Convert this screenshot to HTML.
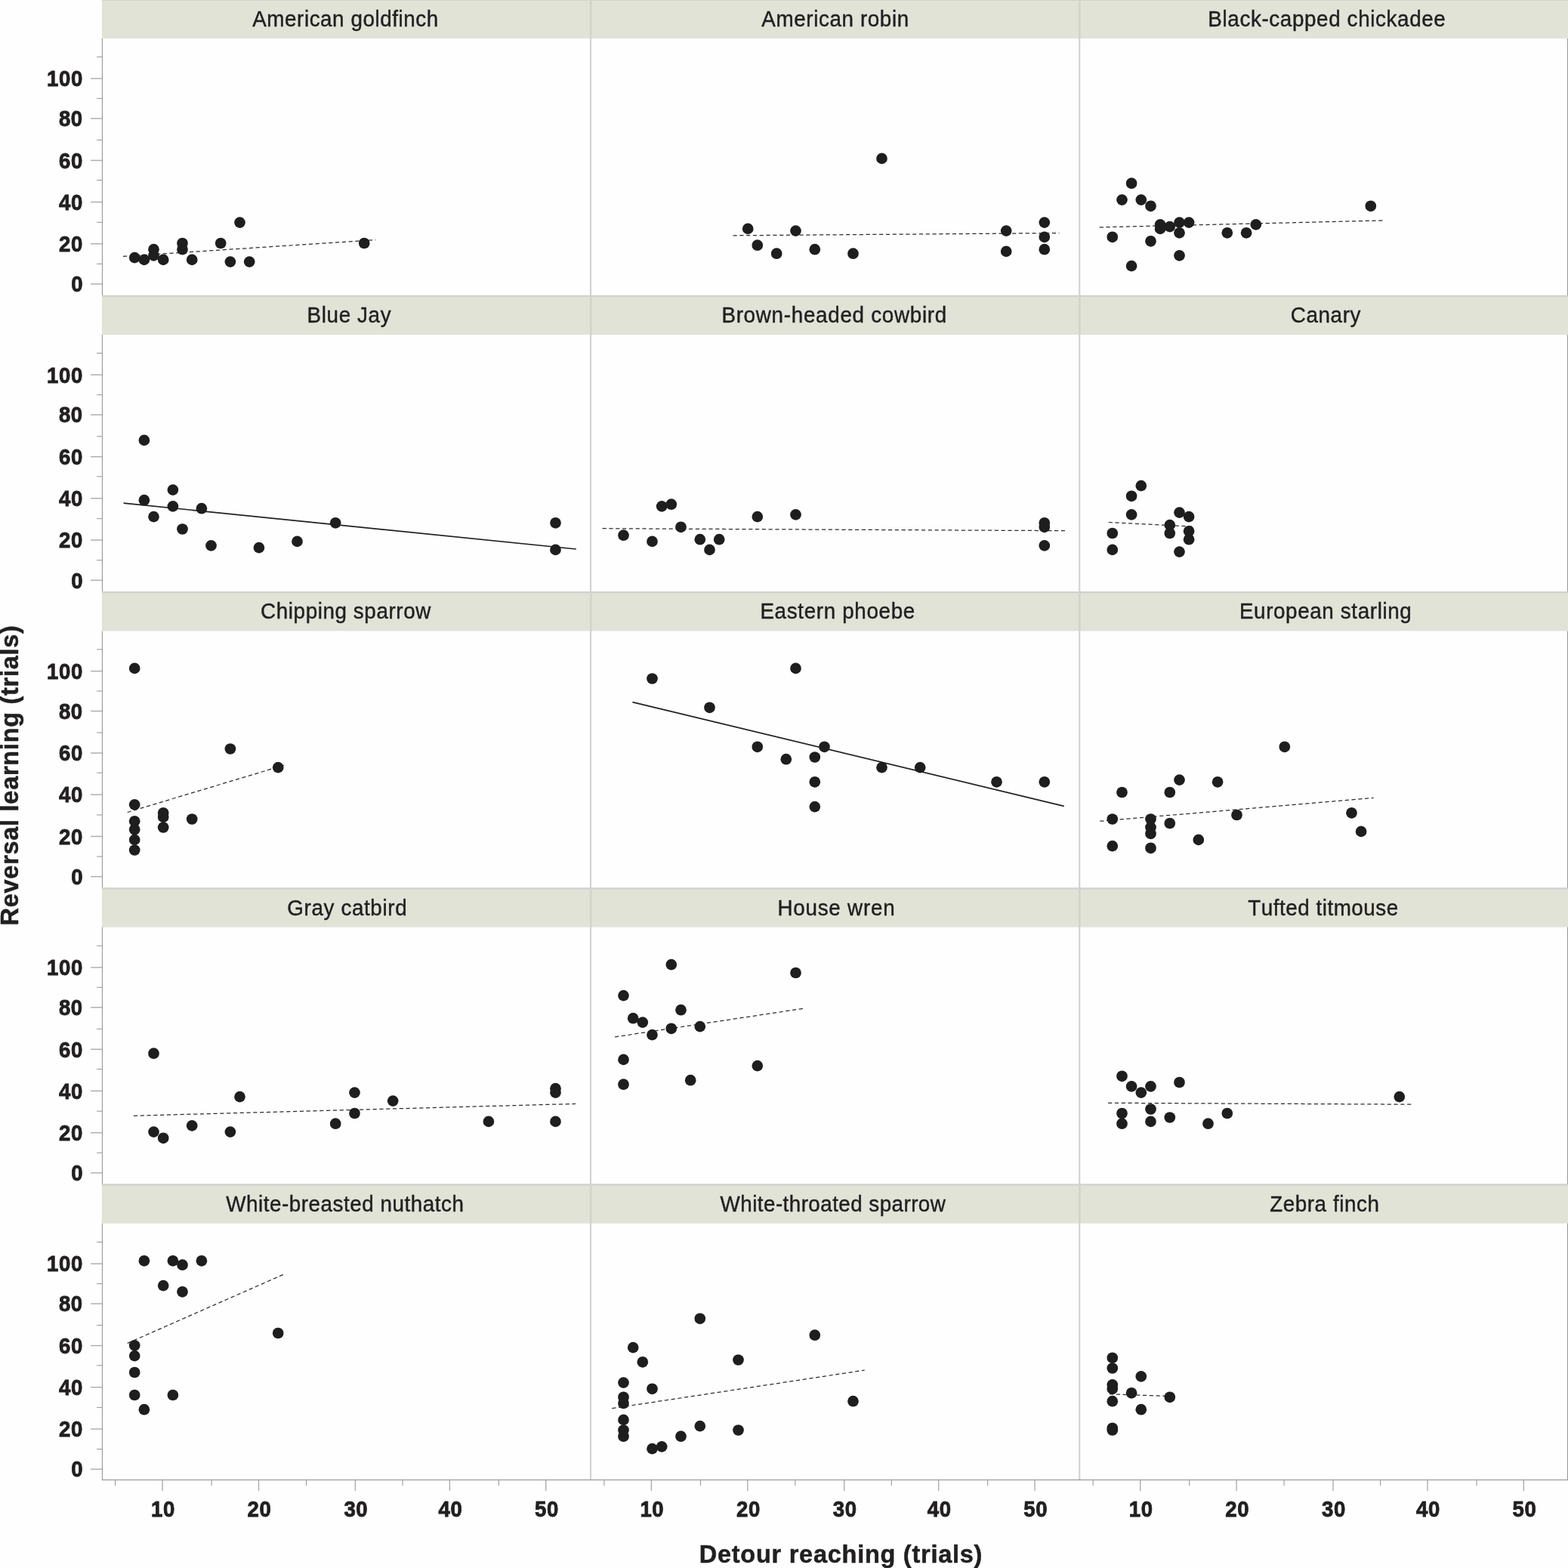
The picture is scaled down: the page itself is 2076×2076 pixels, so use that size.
<!DOCTYPE html>
<html lang="en"><head><meta charset="utf-8"><title>Reversal learning (trials) vs Detour reaching (trials)</title>
<style>html,body{margin:0;padding:0;background:#fefefe}body{width:2076px;height:2076px;overflow:hidden}svg{display:block}text{font-family:'Liberation Sans', Arial, sans-serif;fill:#211f20;font-kerning:none;white-space:pre}.h{font-size:27.8px;stroke:#211f20;stroke-width:0.42px}.t{font-size:27.6px;font-weight:bold;stroke:#211f20;stroke-width:0.8px}.ax{font-size:32.5px;font-weight:bold;stroke:#211f20;stroke-width:0.5px}.d{fill:#1f1e1f}.ls{stroke:#211f20;stroke-width:1.7;fill:none}.ld{stroke:#2e2c2d;stroke-width:1.25;stroke-dasharray:5.2 3.6;fill:none}</style></head><body>
<svg width="2076" height="2076" viewBox="0 0 2076 2076">
<rect x="0" y="0" width="2076" height="2076" fill="#fefefe"/>
<g>
<rect x="134.9" y="-1.3" width="1941.1" height="52.3" fill="#e1e3d7"/>
<rect x="134.9" y="-1.3" width="1941.1" height="2.2" fill="#d1d2cb"/>
<rect x="134.9" y="390.9" width="1941.1" height="52.3" fill="#e1e3d7"/>
<rect x="134.9" y="390.9" width="1941.1" height="2.2" fill="#d1d2cb"/>
<rect x="134.9" y="783.1" width="1941.1" height="52.3" fill="#e1e3d7"/>
<rect x="134.9" y="783.1" width="1941.1" height="2.2" fill="#d1d2cb"/>
<rect x="134.9" y="1175.3" width="1941.1" height="52.3" fill="#e1e3d7"/>
<rect x="134.9" y="1175.3" width="1941.1" height="2.2" fill="#d1d2cb"/>
<rect x="134.9" y="1567.5" width="1941.1" height="52.3" fill="#e1e3d7"/>
<rect x="134.9" y="1567.5" width="1941.1" height="2.2" fill="#d1d2cb"/>
</g>
<g stroke="#d3d3d5" stroke-width="2.2">
<line x1="782.0" y1="0" x2="782.0" y2="1959.4"/>
<line x1="1429.2" y1="0" x2="1429.2" y2="1959.4"/>
</g>
<g stroke="#d3d5ca" stroke-width="2.6">
<line x1="782.2" y1="0.0" x2="782.2" y2="51.0"/>
<line x1="1429.4" y1="0.0" x2="1429.4" y2="51.0"/>
<line x1="782.2" y1="390.9" x2="782.2" y2="443.2"/>
<line x1="1429.4" y1="390.9" x2="1429.4" y2="443.2"/>
<line x1="782.2" y1="783.1" x2="782.2" y2="835.4"/>
<line x1="1429.4" y1="783.1" x2="1429.4" y2="835.4"/>
<line x1="782.2" y1="1175.3" x2="782.2" y2="1227.6"/>
<line x1="1429.4" y1="1175.3" x2="1429.4" y2="1227.6"/>
<line x1="782.2" y1="1567.5" x2="782.2" y2="1619.8"/>
<line x1="1429.4" y1="1567.5" x2="1429.4" y2="1619.8"/>
</g>
<g stroke="#9c9c9c" stroke-width="1.2">
<line x1="135.5" y1="51.0" x2="135.5" y2="390.9"/>
<line x1="2075.5" y1="51.0" x2="2075.5" y2="390.9"/>
<line x1="135.5" y1="443.2" x2="135.5" y2="783.1"/>
<line x1="2075.5" y1="443.2" x2="2075.5" y2="783.1"/>
<line x1="135.5" y1="835.4" x2="135.5" y2="1175.3"/>
<line x1="2075.5" y1="835.4" x2="2075.5" y2="1175.3"/>
<line x1="135.5" y1="1227.6" x2="135.5" y2="1567.5"/>
<line x1="2075.5" y1="1227.6" x2="2075.5" y2="1567.5"/>
<line x1="135.5" y1="1619.8" x2="135.5" y2="1959.4"/>
<line x1="2075.5" y1="1619.8" x2="2075.5" y2="1959.4"/>
<line x1="134.9" y1="1959.4" x2="2076" y2="1959.4"/>
</g>
<g stroke="#adadad" stroke-width="1.45">
<line x1="120.1" y1="104.0" x2="135.5" y2="104.0"/>
<line x1="120.1" y1="156.9" x2="135.5" y2="156.9"/>
<line x1="120.1" y1="212.4" x2="135.5" y2="212.4"/>
<line x1="120.1" y1="267.5" x2="135.5" y2="267.5"/>
<line x1="120.1" y1="322.8" x2="135.5" y2="322.8"/>
<line x1="120.1" y1="376.0" x2="135.5" y2="376.0"/>
<line x1="120.1" y1="496.3" x2="135.5" y2="496.3"/>
<line x1="120.1" y1="549.2" x2="135.5" y2="549.2"/>
<line x1="120.1" y1="604.7" x2="135.5" y2="604.7"/>
<line x1="120.1" y1="659.8" x2="135.5" y2="659.8"/>
<line x1="120.1" y1="715.1" x2="135.5" y2="715.1"/>
<line x1="120.1" y1="768.3" x2="135.5" y2="768.3"/>
<line x1="120.1" y1="888.6" x2="135.5" y2="888.6"/>
<line x1="120.1" y1="941.5" x2="135.5" y2="941.5"/>
<line x1="120.1" y1="997.0" x2="135.5" y2="997.0"/>
<line x1="120.1" y1="1052.1" x2="135.5" y2="1052.1"/>
<line x1="120.1" y1="1107.4" x2="135.5" y2="1107.4"/>
<line x1="120.1" y1="1160.6" x2="135.5" y2="1160.6"/>
<line x1="120.1" y1="1280.9" x2="135.5" y2="1280.9"/>
<line x1="120.1" y1="1333.8" x2="135.5" y2="1333.8"/>
<line x1="120.1" y1="1389.3" x2="135.5" y2="1389.3"/>
<line x1="120.1" y1="1444.4" x2="135.5" y2="1444.4"/>
<line x1="120.1" y1="1499.7" x2="135.5" y2="1499.7"/>
<line x1="120.1" y1="1552.9" x2="135.5" y2="1552.9"/>
<line x1="120.1" y1="1673.2" x2="135.5" y2="1673.2"/>
<line x1="120.1" y1="1726.1" x2="135.5" y2="1726.1"/>
<line x1="120.1" y1="1781.6" x2="135.5" y2="1781.6"/>
<line x1="120.1" y1="1836.7" x2="135.5" y2="1836.7"/>
<line x1="120.1" y1="1892.0" x2="135.5" y2="1892.0"/>
<line x1="120.1" y1="1945.2" x2="135.5" y2="1945.2"/>
</g>
<g stroke="#a6a6a6" stroke-width="1.3">
<line x1="215.1" y1="1959.4" x2="215.1" y2="1973.9"/>
<line x1="342.5" y1="1959.4" x2="342.5" y2="1973.9"/>
<line x1="470.4" y1="1959.4" x2="470.4" y2="1973.9"/>
<line x1="595.4" y1="1959.4" x2="595.4" y2="1973.9"/>
<line x1="722.7" y1="1959.4" x2="722.7" y2="1973.9"/>
<line x1="862.4" y1="1959.4" x2="862.4" y2="1973.9"/>
<line x1="989.8" y1="1959.4" x2="989.8" y2="1973.9"/>
<line x1="1117.7" y1="1959.4" x2="1117.7" y2="1973.9"/>
<line x1="1242.7" y1="1959.4" x2="1242.7" y2="1973.9"/>
<line x1="1370.0" y1="1959.4" x2="1370.0" y2="1973.9"/>
<line x1="1509.7" y1="1959.4" x2="1509.7" y2="1973.9"/>
<line x1="1637.1" y1="1959.4" x2="1637.1" y2="1973.9"/>
<line x1="1765.0" y1="1959.4" x2="1765.0" y2="1973.9"/>
<line x1="1890.0" y1="1959.4" x2="1890.0" y2="1973.9"/>
<line x1="2017.3" y1="1959.4" x2="2017.3" y2="1973.9"/>
</g>
<g stroke="#9c9c9c" stroke-width="1.1">
<line x1="128.1" y1="75.3" x2="135.5" y2="75.3"/>
<line x1="128.1" y1="130.4" x2="135.5" y2="130.4"/>
<line x1="128.1" y1="185.4" x2="135.5" y2="185.4"/>
<line x1="128.1" y1="238.6" x2="135.5" y2="238.6"/>
<line x1="128.1" y1="294.3" x2="135.5" y2="294.3"/>
<line x1="128.1" y1="349.4" x2="135.5" y2="349.4"/>
<line x1="128.1" y1="467.6" x2="135.5" y2="467.6"/>
<line x1="128.1" y1="522.7" x2="135.5" y2="522.7"/>
<line x1="128.1" y1="577.7" x2="135.5" y2="577.7"/>
<line x1="128.1" y1="630.9" x2="135.5" y2="630.9"/>
<line x1="128.1" y1="686.6" x2="135.5" y2="686.6"/>
<line x1="128.1" y1="741.7" x2="135.5" y2="741.7"/>
<line x1="128.1" y1="859.9" x2="135.5" y2="859.9"/>
<line x1="128.1" y1="915.0" x2="135.5" y2="915.0"/>
<line x1="128.1" y1="970.0" x2="135.5" y2="970.0"/>
<line x1="128.1" y1="1023.2" x2="135.5" y2="1023.2"/>
<line x1="128.1" y1="1078.9" x2="135.5" y2="1078.9"/>
<line x1="128.1" y1="1134.0" x2="135.5" y2="1134.0"/>
<line x1="128.1" y1="1252.2" x2="135.5" y2="1252.2"/>
<line x1="128.1" y1="1307.3" x2="135.5" y2="1307.3"/>
<line x1="128.1" y1="1362.3" x2="135.5" y2="1362.3"/>
<line x1="128.1" y1="1415.5" x2="135.5" y2="1415.5"/>
<line x1="128.1" y1="1471.2" x2="135.5" y2="1471.2"/>
<line x1="128.1" y1="1526.3" x2="135.5" y2="1526.3"/>
<line x1="128.1" y1="1644.5" x2="135.5" y2="1644.5"/>
<line x1="128.1" y1="1699.6" x2="135.5" y2="1699.6"/>
<line x1="128.1" y1="1754.6" x2="135.5" y2="1754.6"/>
<line x1="128.1" y1="1807.8" x2="135.5" y2="1807.8"/>
<line x1="128.1" y1="1863.5" x2="135.5" y2="1863.5"/>
<line x1="128.1" y1="1918.6" x2="135.5" y2="1918.6"/>
<line x1="152.6" y1="1959.4" x2="152.6" y2="1966.9"/>
<line x1="280.1" y1="1959.4" x2="280.1" y2="1966.9"/>
<line x1="405.5" y1="1959.4" x2="405.5" y2="1966.9"/>
<line x1="533.0" y1="1959.4" x2="533.0" y2="1966.9"/>
<line x1="660.4" y1="1959.4" x2="660.4" y2="1966.9"/>
<line x1="799.9" y1="1959.4" x2="799.9" y2="1966.9"/>
<line x1="927.4" y1="1959.4" x2="927.4" y2="1966.9"/>
<line x1="1052.8" y1="1959.4" x2="1052.8" y2="1966.9"/>
<line x1="1180.3" y1="1959.4" x2="1180.3" y2="1966.9"/>
<line x1="1307.7" y1="1959.4" x2="1307.7" y2="1966.9"/>
<line x1="1447.2" y1="1959.4" x2="1447.2" y2="1966.9"/>
<line x1="1574.7" y1="1959.4" x2="1574.7" y2="1966.9"/>
<line x1="1700.1" y1="1959.4" x2="1700.1" y2="1966.9"/>
<line x1="1827.6" y1="1959.4" x2="1827.6" y2="1966.9"/>
<line x1="1955.0" y1="1959.4" x2="1955.0" y2="1966.9"/>
</g>
<g class="t">
<text transform="matrix(1 0 0 1.090 0 -10.287)" x="61.93" y="114.3" letter-spacing="0.640">100</text>
<text transform="matrix(1 0 0 1.090 0 -15.048)" x="77.90" y="167.2" letter-spacing="0.640">80</text>
<text transform="matrix(1 0 0 1.090 0 -20.043)" x="77.91" y="222.7" letter-spacing="0.640">60</text>
<text transform="matrix(1 0 0 1.090 0 -25.002)" x="77.94" y="277.8" letter-spacing="0.640">40</text>
<text transform="matrix(1 0 0 1.090 0 -29.979)" x="77.91" y="333.1" letter-spacing="0.640">20</text>
<text transform="matrix(1 0 0 1.090 0 -34.767)" x="94.28" y="386.3" letter-spacing="0.640">0</text>
<text transform="matrix(1 0 0 1.090 0 -45.594)" x="61.93" y="506.6" letter-spacing="0.640">100</text>
<text transform="matrix(1 0 0 1.090 0 -50.355)" x="77.90" y="559.5" letter-spacing="0.640">80</text>
<text transform="matrix(1 0 0 1.090 0 -55.350)" x="77.91" y="615.0" letter-spacing="0.640">60</text>
<text transform="matrix(1 0 0 1.090 0 -60.309)" x="77.94" y="670.1" letter-spacing="0.640">40</text>
<text transform="matrix(1 0 0 1.090 0 -65.286)" x="77.91" y="725.4" letter-spacing="0.640">20</text>
<text transform="matrix(1 0 0 1.090 0 -70.074)" x="94.28" y="778.6" letter-spacing="0.640">0</text>
<text transform="matrix(1 0 0 1.090 0 -80.901)" x="61.93" y="898.9" letter-spacing="0.640">100</text>
<text transform="matrix(1 0 0 1.090 0 -85.662)" x="77.90" y="951.8" letter-spacing="0.640">80</text>
<text transform="matrix(1 0 0 1.090 0 -90.657)" x="77.91" y="1007.3" letter-spacing="0.640">60</text>
<text transform="matrix(1 0 0 1.090 0 -95.616)" x="77.94" y="1062.4" letter-spacing="0.640">40</text>
<text transform="matrix(1 0 0 1.090 0 -100.593)" x="77.91" y="1117.7" letter-spacing="0.640">20</text>
<text transform="matrix(1 0 0 1.090 0 -105.381)" x="94.28" y="1170.9" letter-spacing="0.640">0</text>
<text transform="matrix(1 0 0 1.090 0 -116.208)" x="61.93" y="1291.2" letter-spacing="0.640">100</text>
<text transform="matrix(1 0 0 1.090 0 -120.969)" x="77.90" y="1344.1" letter-spacing="0.640">80</text>
<text transform="matrix(1 0 0 1.090 0 -125.964)" x="77.91" y="1399.6" letter-spacing="0.640">60</text>
<text transform="matrix(1 0 0 1.090 0 -130.923)" x="77.94" y="1454.7" letter-spacing="0.640">40</text>
<text transform="matrix(1 0 0 1.090 0 -135.900)" x="77.91" y="1510.0" letter-spacing="0.640">20</text>
<text transform="matrix(1 0 0 1.090 0 -140.688)" x="94.28" y="1563.2" letter-spacing="0.640">0</text>
<text transform="matrix(1 0 0 1.090 0 -151.515)" x="61.93" y="1683.5" letter-spacing="0.640">100</text>
<text transform="matrix(1 0 0 1.090 0 -156.276)" x="77.90" y="1736.4" letter-spacing="0.640">80</text>
<text transform="matrix(1 0 0 1.090 0 -161.271)" x="77.91" y="1791.9" letter-spacing="0.640">60</text>
<text transform="matrix(1 0 0 1.090 0 -166.230)" x="77.94" y="1847.0" letter-spacing="0.640">40</text>
<text transform="matrix(1 0 0 1.090 0 -171.207)" x="77.91" y="1902.3" letter-spacing="0.640">20</text>
<text transform="matrix(1 0 0 1.090 0 -175.995)" x="94.28" y="1955.5" letter-spacing="0.640">0</text>
</g>
<g class="t">
<text transform="matrix(1 0 0 1.090 0 -180.702)" x="200.09" y="2007.8" letter-spacing="0.640">10</text>
<text transform="matrix(1 0 0 1.090 0 -180.702)" x="327.61" y="2007.8" letter-spacing="0.640">20</text>
<text transform="matrix(1 0 0 1.090 0 -180.702)" x="455.38" y="2007.8" letter-spacing="0.640">30</text>
<text transform="matrix(1 0 0 1.090 0 -180.702)" x="580.46" y="2007.8" letter-spacing="0.640">40</text>
<text transform="matrix(1 0 0 1.090 0 -180.702)" x="707.96" y="2007.8" letter-spacing="0.640">50</text>
<text transform="matrix(1 0 0 1.090 0 -180.702)" x="847.39" y="2007.8" letter-spacing="0.640">10</text>
<text transform="matrix(1 0 0 1.090 0 -180.702)" x="974.91" y="2007.8" letter-spacing="0.640">20</text>
<text transform="matrix(1 0 0 1.090 0 -180.702)" x="1102.68" y="2007.8" letter-spacing="0.640">30</text>
<text transform="matrix(1 0 0 1.090 0 -180.702)" x="1227.76" y="2007.8" letter-spacing="0.640">40</text>
<text transform="matrix(1 0 0 1.090 0 -180.702)" x="1355.26" y="2007.8" letter-spacing="0.640">50</text>
<text transform="matrix(1 0 0 1.090 0 -180.702)" x="1494.69" y="2007.8" letter-spacing="0.640">10</text>
<text transform="matrix(1 0 0 1.090 0 -180.702)" x="1622.21" y="2007.8" letter-spacing="0.640">20</text>
<text transform="matrix(1 0 0 1.090 0 -180.702)" x="1749.98" y="2007.8" letter-spacing="0.640">30</text>
<text transform="matrix(1 0 0 1.090 0 -180.702)" x="1875.06" y="2007.8" letter-spacing="0.640">40</text>
<text transform="matrix(1 0 0 1.090 0 -180.702)" x="2002.56" y="2007.8" letter-spacing="0.640">50</text>
</g>
<g class="h">
<text transform="matrix(1 0 0 1.030 0 -1.038)" x="334.29" y="34.6" letter-spacing="0.553">American goldfinch</text>
<text transform="matrix(1 0 0 1.030 0 -1.038)" x="1008.38" y="34.6" letter-spacing="0.602">American robin</text>
<text transform="matrix(1 0 0 1.030 0 -1.038)" x="1599.34" y="34.6" letter-spacing="0.624">Black-capped chickadee</text>
<text transform="matrix(1 0 0 1.030 0 -12.810)" x="406.60" y="427.0" letter-spacing="0.622">Blue Jay</text>
<text transform="matrix(1 0 0 1.030 0 -12.810)" x="955.38" y="427.0" letter-spacing="0.715">Brown-headed cowbird</text>
<text transform="matrix(1 0 0 1.030 0 -12.810)" x="1708.82" y="427.0" letter-spacing="0.594">Canary</text>
<text transform="matrix(1 0 0 1.030 0 -24.582)" x="345.10" y="819.4" letter-spacing="0.591">Chipping sparrow</text>
<text transform="matrix(1 0 0 1.030 0 -24.582)" x="1006.43" y="819.4" letter-spacing="0.656">Eastern phoebe</text>
<text transform="matrix(1 0 0 1.030 0 -24.582)" x="1640.88" y="819.4" letter-spacing="0.626">European starling</text>
<text transform="matrix(1 0 0 1.030 0 -36.354)" x="380.28" y="1211.8" letter-spacing="0.630">Gray catbird</text>
<text transform="matrix(1 0 0 1.030 0 -36.354)" x="1029.40" y="1211.8" letter-spacing="0.763">House wren</text>
<text transform="matrix(1 0 0 1.030 0 -36.354)" x="1652.34" y="1211.8" letter-spacing="0.521">Tufted titmouse</text>
<text transform="matrix(1 0 0 1.030 0 -48.126)" x="299.29" y="1604.2" letter-spacing="0.537">White-breasted nuthatch</text>
<text transform="matrix(1 0 0 1.030 0 -48.126)" x="953.61" y="1604.2" letter-spacing="0.444">White-throated sparrow</text>
<text transform="matrix(1 0 0 1.030 0 -48.126)" x="1681.13" y="1604.2" letter-spacing="0.583">Zebra finch</text>
</g>
<text class="ax" x="925.74" y="2068.7" letter-spacing="0.743">Detour reaching (trials)</text>
<text class="ax" transform="rotate(-90)" x="-1225.43" y="24.0" letter-spacing="0.720">Reversal learning (trials)</text>
<g>
<line class="ld" x1="163.0" y1="339.4" x2="497.4" y2="317.6"/>
<g class="d"><circle cx="178.2" cy="341.1" r="7.35"/><circle cx="190.9" cy="343.9" r="7.35"/><circle cx="203.5" cy="330.2" r="7.35"/><circle cx="203.5" cy="338.4" r="7.35"/><circle cx="216.2" cy="343.9" r="7.35"/><circle cx="241.5" cy="322.0" r="7.35"/><circle cx="241.5" cy="330.2" r="7.35"/><circle cx="254.2" cy="343.9" r="7.35"/><circle cx="292.2" cy="322.0" r="7.35"/><circle cx="304.9" cy="346.6" r="7.35"/><circle cx="317.5" cy="294.6" r="7.35"/><circle cx="330.2" cy="346.6" r="7.35"/><circle cx="482.2" cy="322.0" r="7.35"/></g>
</g>
<g>
<line class="ld" x1="970.5" y1="311.8" x2="1402.5" y2="308.6"/>
<g class="d"><circle cx="990.2" cy="302.9" r="7.35"/><circle cx="1002.8" cy="324.7" r="7.35"/><circle cx="1028.2" cy="335.7" r="7.35"/><circle cx="1053.5" cy="305.6" r="7.35"/><circle cx="1078.8" cy="330.2" r="7.35"/><circle cx="1129.5" cy="335.7" r="7.35"/><circle cx="1167.5" cy="209.9" r="7.35"/><circle cx="1332.2" cy="305.6" r="7.35"/><circle cx="1332.2" cy="332.9" r="7.35"/><circle cx="1382.8" cy="294.6" r="7.35"/><circle cx="1382.8" cy="313.8" r="7.35"/><circle cx="1382.8" cy="330.2" r="7.35"/></g>
</g>
<g>
<line class="ld" x1="1455.7" y1="300.9" x2="1831.9" y2="291.9"/>
<g class="d"><circle cx="1472.8" cy="313.8" r="7.35"/><circle cx="1485.5" cy="264.6" r="7.35"/><circle cx="1498.1" cy="242.7" r="7.35"/><circle cx="1498.1" cy="352.1" r="7.35"/><circle cx="1510.8" cy="264.6" r="7.35"/><circle cx="1523.5" cy="272.8" r="7.35"/><circle cx="1523.5" cy="319.3" r="7.35"/><circle cx="1536.1" cy="297.4" r="7.35"/><circle cx="1536.1" cy="302.9" r="7.35"/><circle cx="1548.8" cy="300.1" r="7.35"/><circle cx="1561.5" cy="294.6" r="7.35"/><circle cx="1561.5" cy="308.3" r="7.35"/><circle cx="1561.5" cy="338.4" r="7.35"/><circle cx="1574.1" cy="294.6" r="7.35"/><circle cx="1624.8" cy="308.3" r="7.35"/><circle cx="1650.1" cy="308.3" r="7.35"/><circle cx="1662.8" cy="297.4" r="7.35"/><circle cx="1814.8" cy="272.8" r="7.35"/></g>
</g>
<g>
<line class="ls" x1="163.6" y1="666.1" x2="762.8" y2="727.0"/>
<g class="d"><circle cx="190.9" cy="582.9" r="7.35"/><circle cx="190.9" cy="662.2" r="7.35"/><circle cx="203.5" cy="684.1" r="7.35"/><circle cx="228.9" cy="648.6" r="7.35"/><circle cx="228.9" cy="670.4" r="7.35"/><circle cx="241.5" cy="700.5" r="7.35"/><circle cx="266.9" cy="673.2" r="7.35"/><circle cx="279.5" cy="722.4" r="7.35"/><circle cx="342.9" cy="725.1" r="7.35"/><circle cx="393.5" cy="716.9" r="7.35"/><circle cx="444.2" cy="692.3" r="7.35"/><circle cx="735.5" cy="692.3" r="7.35"/><circle cx="735.5" cy="727.9" r="7.35"/></g>
</g>
<g>
<line class="ld" x1="797.6" y1="699.7" x2="1410.7" y2="702.7"/>
<g class="d"><circle cx="825.5" cy="708.7" r="7.35"/><circle cx="863.5" cy="716.9" r="7.35"/><circle cx="876.2" cy="670.4" r="7.35"/><circle cx="888.8" cy="667.7" r="7.35"/><circle cx="901.5" cy="697.8" r="7.35"/><circle cx="926.8" cy="714.2" r="7.35"/><circle cx="939.5" cy="727.9" r="7.35"/><circle cx="952.2" cy="714.2" r="7.35"/><circle cx="1002.8" cy="684.1" r="7.35"/><circle cx="1053.5" cy="681.4" r="7.35"/><circle cx="1382.8" cy="692.3" r="7.35"/><circle cx="1382.8" cy="697.8" r="7.35"/><circle cx="1382.8" cy="722.4" r="7.35"/></g>
</g>
<g>
<line class="ld" x1="1467.7" y1="691.5" x2="1579.2" y2="697.2"/>
<g class="d"><circle cx="1472.8" cy="706.0" r="7.35"/><circle cx="1472.8" cy="727.9" r="7.35"/><circle cx="1498.1" cy="656.8" r="7.35"/><circle cx="1498.1" cy="681.4" r="7.35"/><circle cx="1510.8" cy="643.1" r="7.35"/><circle cx="1548.8" cy="695.1" r="7.35"/><circle cx="1548.8" cy="706.0" r="7.35"/><circle cx="1561.5" cy="678.6" r="7.35"/><circle cx="1561.5" cy="730.6" r="7.35"/><circle cx="1574.1" cy="684.1" r="7.35"/><circle cx="1574.1" cy="703.3" r="7.35"/><circle cx="1574.1" cy="714.2" r="7.35"/></g>
</g>
<g>
<line class="ld" x1="168.7" y1="1075.5" x2="377.7" y2="1012.6"/>
<g class="d"><circle cx="178.2" cy="884.9" r="7.35"/><circle cx="178.2" cy="1065.4" r="7.35"/><circle cx="178.2" cy="1087.3" r="7.35"/><circle cx="178.2" cy="1098.2" r="7.35"/><circle cx="178.2" cy="1111.9" r="7.35"/><circle cx="178.2" cy="1125.5" r="7.35"/><circle cx="216.2" cy="1076.3" r="7.35"/><circle cx="216.2" cy="1081.8" r="7.35"/><circle cx="216.2" cy="1095.5" r="7.35"/><circle cx="254.2" cy="1084.5" r="7.35"/><circle cx="304.9" cy="991.5" r="7.35"/><circle cx="368.2" cy="1016.1" r="7.35"/></g>
</g>
<g>
<line class="ls" x1="837.5" y1="929.7" x2="1408.8" y2="1067.3"/>
<g class="d"><circle cx="863.5" cy="898.5" r="7.35"/><circle cx="939.5" cy="936.8" r="7.35"/><circle cx="1002.8" cy="988.8" r="7.35"/><circle cx="1040.8" cy="1005.2" r="7.35"/><circle cx="1053.5" cy="884.9" r="7.35"/><circle cx="1078.8" cy="1002.5" r="7.35"/><circle cx="1078.8" cy="1035.3" r="7.35"/><circle cx="1078.8" cy="1068.1" r="7.35"/><circle cx="1091.5" cy="988.8" r="7.35"/><circle cx="1167.5" cy="1016.1" r="7.35"/><circle cx="1218.2" cy="1016.1" r="7.35"/><circle cx="1319.5" cy="1035.3" r="7.35"/><circle cx="1382.8" cy="1035.3" r="7.35"/></g>
</g>
<g>
<line class="ld" x1="1456.3" y1="1087.2" x2="1818.6" y2="1056.4"/>
<g class="d"><circle cx="1472.8" cy="1084.5" r="7.35"/><circle cx="1472.8" cy="1120.1" r="7.35"/><circle cx="1485.5" cy="1049.0" r="7.35"/><circle cx="1523.5" cy="1084.5" r="7.35"/><circle cx="1523.5" cy="1095.5" r="7.35"/><circle cx="1523.5" cy="1103.7" r="7.35"/><circle cx="1523.5" cy="1122.8" r="7.35"/><circle cx="1548.8" cy="1049.0" r="7.35"/><circle cx="1548.8" cy="1090.0" r="7.35"/><circle cx="1561.5" cy="1032.6" r="7.35"/><circle cx="1586.8" cy="1111.9" r="7.35"/><circle cx="1612.1" cy="1035.3" r="7.35"/><circle cx="1637.5" cy="1079.0" r="7.35"/><circle cx="1700.8" cy="988.8" r="7.35"/><circle cx="1789.5" cy="1076.3" r="7.35"/><circle cx="1802.1" cy="1100.9" r="7.35"/></g>
</g>
<g>
<line class="ld" x1="176.9" y1="1477.3" x2="762.1" y2="1461.4"/>
<g class="d"><circle cx="203.5" cy="1394.7" r="7.35"/><circle cx="203.5" cy="1498.6" r="7.35"/><circle cx="216.2" cy="1506.8" r="7.35"/><circle cx="254.2" cy="1490.4" r="7.35"/><circle cx="304.9" cy="1498.6" r="7.35"/><circle cx="317.5" cy="1452.1" r="7.35"/><circle cx="444.2" cy="1487.7" r="7.35"/><circle cx="469.5" cy="1446.6" r="7.35"/><circle cx="469.5" cy="1474.0" r="7.35"/><circle cx="520.2" cy="1457.6" r="7.35"/><circle cx="646.9" cy="1484.9" r="7.35"/><circle cx="735.5" cy="1441.2" r="7.35"/><circle cx="735.5" cy="1446.6" r="7.35"/><circle cx="735.5" cy="1484.9" r="7.35"/></g>
</g>
<g>
<line class="ld" x1="814.1" y1="1372.9" x2="1064.9" y2="1335.0"/>
<g class="d"><circle cx="825.5" cy="1318.1" r="7.35"/><circle cx="825.5" cy="1402.9" r="7.35"/><circle cx="825.5" cy="1435.7" r="7.35"/><circle cx="838.2" cy="1348.2" r="7.35"/><circle cx="850.8" cy="1353.6" r="7.35"/><circle cx="863.5" cy="1370.1" r="7.35"/><circle cx="888.8" cy="1277.1" r="7.35"/><circle cx="888.8" cy="1361.8" r="7.35"/><circle cx="901.5" cy="1337.2" r="7.35"/><circle cx="914.2" cy="1430.2" r="7.35"/><circle cx="926.8" cy="1359.1" r="7.35"/><circle cx="1002.8" cy="1411.1" r="7.35"/><circle cx="1053.5" cy="1288.0" r="7.35"/></g>
</g>
<g>
<line class="ld" x1="1467.1" y1="1460.3" x2="1871.2" y2="1462.2"/>
<g class="d"><circle cx="1485.5" cy="1424.8" r="7.35"/><circle cx="1485.5" cy="1474.0" r="7.35"/><circle cx="1485.5" cy="1487.7" r="7.35"/><circle cx="1498.1" cy="1438.4" r="7.35"/><circle cx="1510.8" cy="1446.6" r="7.35"/><circle cx="1523.5" cy="1438.4" r="7.35"/><circle cx="1523.5" cy="1468.5" r="7.35"/><circle cx="1523.5" cy="1484.9" r="7.35"/><circle cx="1548.8" cy="1479.5" r="7.35"/><circle cx="1561.5" cy="1433.0" r="7.35"/><circle cx="1599.5" cy="1487.7" r="7.35"/><circle cx="1624.8" cy="1474.0" r="7.35"/><circle cx="1852.8" cy="1452.1" r="7.35"/></g>
</g>
<g>
<line class="ld" x1="168.7" y1="1778.4" x2="377.7" y2="1686.3"/>
<g class="d"><circle cx="190.9" cy="1669.3" r="7.35"/><circle cx="228.9" cy="1669.3" r="7.35"/><circle cx="241.5" cy="1674.7" r="7.35"/><circle cx="266.9" cy="1669.3" r="7.35"/><circle cx="216.2" cy="1702.1" r="7.35"/><circle cx="241.5" cy="1710.3" r="7.35"/><circle cx="368.2" cy="1765.0" r="7.35"/><circle cx="178.2" cy="1781.4" r="7.35"/><circle cx="178.2" cy="1795.1" r="7.35"/><circle cx="178.2" cy="1817.0" r="7.35"/><circle cx="178.2" cy="1847.0" r="7.35"/><circle cx="228.9" cy="1847.0" r="7.35"/><circle cx="190.9" cy="1866.2" r="7.35"/></g>
</g>
<g>
<line class="ld" x1="810.3" y1="1864.7" x2="1144.7" y2="1814.1"/>
<g class="d"><circle cx="825.5" cy="1830.6" r="7.35"/><circle cx="825.5" cy="1849.8" r="7.35"/><circle cx="825.5" cy="1858.0" r="7.35"/><circle cx="825.5" cy="1879.9" r="7.35"/><circle cx="825.5" cy="1893.5" r="7.35"/><circle cx="825.5" cy="1901.7" r="7.35"/><circle cx="838.2" cy="1784.1" r="7.35"/><circle cx="850.8" cy="1803.3" r="7.35"/><circle cx="863.5" cy="1838.8" r="7.35"/><circle cx="863.5" cy="1918.1" r="7.35"/><circle cx="876.2" cy="1915.4" r="7.35"/><circle cx="901.5" cy="1901.7" r="7.35"/><circle cx="926.8" cy="1745.8" r="7.35"/><circle cx="926.8" cy="1888.1" r="7.35"/><circle cx="977.5" cy="1800.5" r="7.35"/><circle cx="977.5" cy="1893.5" r="7.35"/><circle cx="1078.8" cy="1767.7" r="7.35"/><circle cx="1129.5" cy="1855.2" r="7.35"/></g>
</g>
<g>
<line class="ld" x1="1469.0" y1="1845.7" x2="1552.6" y2="1848.7"/>
<g class="d"><circle cx="1472.8" cy="1797.8" r="7.35"/><circle cx="1472.8" cy="1811.5" r="7.35"/><circle cx="1472.8" cy="1833.4" r="7.35"/><circle cx="1472.8" cy="1838.8" r="7.35"/><circle cx="1472.8" cy="1855.2" r="7.35"/><circle cx="1472.8" cy="1890.8" r="7.35"/><circle cx="1472.8" cy="1893.5" r="7.35"/><circle cx="1510.8" cy="1822.4" r="7.35"/><circle cx="1510.8" cy="1866.2" r="7.35"/><circle cx="1498.1" cy="1844.3" r="7.35"/><circle cx="1548.8" cy="1849.8" r="7.35"/></g>
</g>
</svg></body></html>
